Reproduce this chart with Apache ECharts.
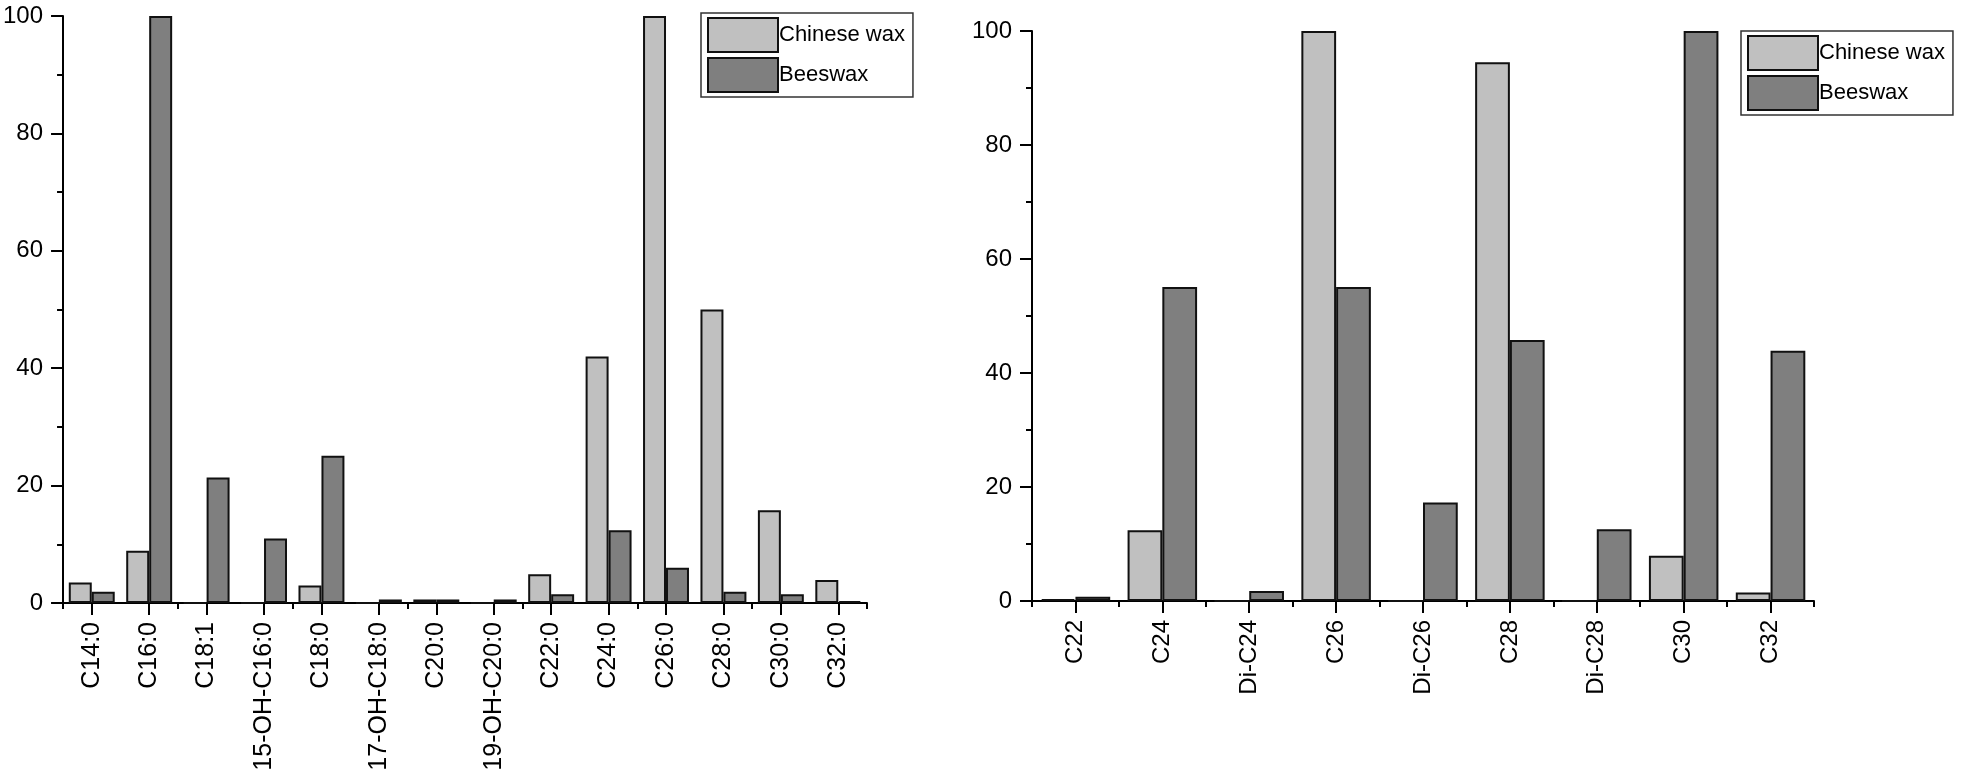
<!DOCTYPE html>
<html>
<head>
<meta charset="utf-8">
<script src="https://cdn.jsdelivr.net/npm/echarts@6/dist/echarts.min.js"></script>
<style>
html,body{margin:0;padding:0;background:#fff;}
#chart{width:1961px;height:777px;}
</style>
</head>
<body>
<div id="chart"></div>
<script>
// ---- Data ----
var seriesNames = ['Chinese wax', 'Beeswax'];
var yTicks = [0, 20, 40, 60, 80, 100];

var leftCategories = ['C14:0', 'C16:0', 'C18:1', '15-OH-C16:0', 'C18:0', '17-OH-C18:0', 'C20:0', '19-OH-C20:0', 'C22:0', 'C24:0', 'C26:0', 'C28:0', 'C30:0', 'C32:0'];
var leftChineseWax = [3.5, 8.9, 0, 0, 3.0, 0, 0.6, 0, 4.9, 42.0, 100, 50.0, 15.8, 3.9];
var leftBeeswax = [1.9, 100, 21.4, 11.0, 25.1, 0.6, 0.6, 0.6, 1.5, 12.4, 6.0, 1.9, 1.5, 0.3];

var rightCategories = ['C22', 'C24', 'Di-C24', 'C26', 'Di-C26', 'C28', 'Di-C28', 'C30', 'C32'];
var rightChineseWax = [0.35, 12.4, 0, 100, 0, 94.5, 0, 7.95, 1.5];
var rightBeeswax = [0.75, 55.1, 1.75, 55.1, 17.3, 45.8, 12.6, 100, 43.9];

// ---- Styles ----
var FONT = '"Liberation Sans", Arial, sans-serif';
var LIGHT = '#c0c0c0';
var DARK = '#7f7f7f';
var colors = [LIGHT, DARK];

var chart = echarts.init(document.getElementById('chart'), null, {renderer: 'canvas'});

function xAxes(cats, gridIndex, fs) {
  return [
    {
      type: 'category', gridIndex: gridIndex, data: cats, position: 'bottom',
      axisLine: {show: true, lineStyle: {color: '#000', width: 2}},
      axisTick: {show: true, alignWithLabel: true, length: 12, lineStyle: {color: '#000', width: 2}},
      axisLabel: {rotate: 90, margin: 19, fontSize: fs, fontFamily: FONT, color: '#000'},
      splitLine: {show: false}
    },
    {
      type: 'category', gridIndex: gridIndex, data: cats, position: 'bottom', offset: 0,
      axisLine: {show: false},
      axisTick: {show: true, alignWithLabel: false, length: 6, lineStyle: {color: '#000', width: 2}},
      axisLabel: {show: false},
      splitLine: {show: false}
    }
  ];
}

function yAxis(gridIndex) {
  return {
    type: 'value', gridIndex: gridIndex, min: yTicks[0], max: yTicks[yTicks.length - 1],
    interval: yTicks[1] - yTicks[0],
    axisLine: {show: true, lineStyle: {color: '#000', width: 2}},
    axisTick: {show: true, length: 12, lineStyle: {color: '#000', width: 2}},
    minorTick: {show: true, splitNumber: 2, length: 6, lineStyle: {color: '#000', width: 2}},
    axisLabel: {margin: 20, fontSize: 24, fontFamily: FONT, color: '#000'},
    splitLine: {show: false}
  };
}

function barSeries(name, data, xIdx, yIdx, color) {
  return {
    name: name, type: 'bar', xAxisIndex: xIdx, yAxisIndex: yIdx, data: data,
    barGap: '0%', barCategoryGap: '20%',
    itemStyle: {color: color, borderColor: '#111', borderWidth: 2},
    emphasis: {disabled: true}
  };
}

function legend(left, top) {
  return {
    orient: 'vertical', left: left, top: top,
    data: seriesNames,
    itemWidth: 70, itemHeight: 34, itemGap: 4,
    padding: [4, 8, 4, 6],
    borderColor: '#333', borderWidth: 1.5, backgroundColor: '#fff',
    icon: 'rect',
    itemStyle: {borderColor: '#111', borderWidth: 2},
    textStyle: {fontSize: 22, fontFamily: FONT, color: '#000', padding: [0, 0, 0, -4]},
    selectedMode: false
  };
}

chart.setOption({
  animation: false,
  color: colors,
  grid: [
    {left: 63, right: 1094, top: 16, bottom: 174, containLabel: false},
    {left: 1032, right: 147, top: 31, bottom: 176, containLabel: false}
  ],
  legend: [legend(701, 13), legend(1741, 31)],
  xAxis: xAxes(leftCategories, 0, 25).concat(xAxes(rightCategories, 1, 24)),
  yAxis: [yAxis(0), yAxis(1)],
  series: [
    barSeries(seriesNames[0], leftChineseWax, 0, 0, LIGHT),
    barSeries(seriesNames[1], leftBeeswax, 0, 0, DARK),
    barSeries(seriesNames[0], rightChineseWax, 2, 1, LIGHT),
    barSeries(seriesNames[1], rightBeeswax, 2, 1, DARK)
  ]
});
</script>
</body>
</html>
